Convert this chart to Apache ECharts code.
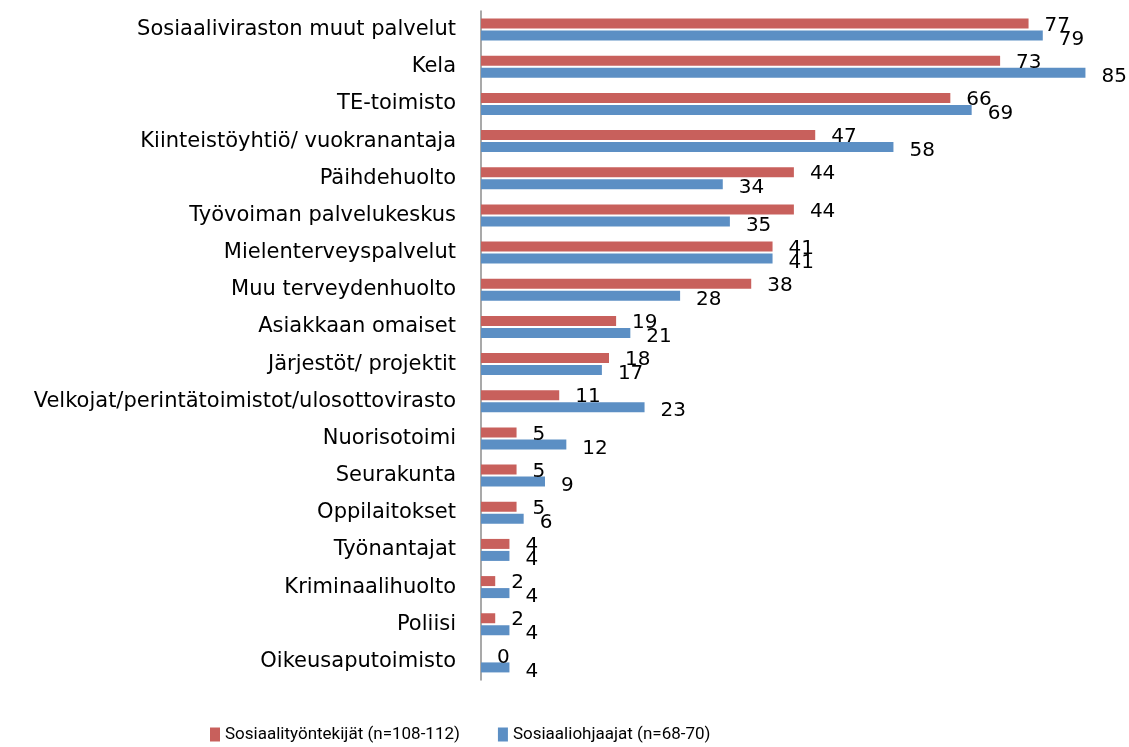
<!DOCTYPE html>
<html>
<head>
<meta charset="utf-8">
<script src="https://cdn.jsdelivr.net/npm/echarts@6/dist/echarts.min.js"></script>
<style>
  html, body { margin: 0; padding: 0; background: #fff; }
  #main { width: 1129px; height: 747px; }
</style>
</head>
<body>
<div id="main"></div>
<script>
var categories = [
    'Sosiaaliviraston muut palvelut', 'Kela', 'TE-toimisto', 'Kiinteistöyhtiö/ vuokranantaja',
    'Päihdehuolto', 'Työvoiman palvelukeskus', 'Mielenterveyspalvelut', 'Muu terveydenhuolto',
    'Asiakkaan omaiset', 'Järjestöt/ projektit', 'Velkojat/perintätoimistot/ulosottovirasto',
    'Nuorisotoimi', 'Seurakunta', 'Oppilaitokset', 'Työnantajat', 'Kriminaalihuolto',
    'Poliisi', 'Oikeusaputoimisto'
];
var seriesNames = ['Sosiaalityöntekijät (n=108-112)', 'Sosiaaliohjaajat (n=68-70)'];
var socialWorkers = [77, 73, 66, 47, 44, 44, 41, 38, 19, 18, 11, 5, 5, 5, 4, 2, 2, 0];
var socialInstructors = [79, 85, 69, 58, 34, 35, 41, 28, 21, 17, 23, 12, 9, 6, 4, 4, 4, 4];

var myChart = echarts.init(document.getElementById('main'));

var labelFont = 'DejaVu Sans';

var option = {
    animation: false,
    legend: {
        top: 721,
        left: 205,
        itemWidth: 10,
        itemHeight: 14,
        itemGap: 38,
        icon: 'rect',
        textStyle: { fontFamily: 'Roboto', fontSize: 17, color: '#000' },
        data: seriesNames
    },
    grid: {
        left: 481,
        top: 11,
        width: 640,
        height: 669
    },
    xAxis: {
        type: 'value',
        min: 0,
        max: 90,
        show: false
    },
    yAxis: {
        type: 'category',
        inverse: true,
        data: categories,
        axisTick: { show: false },
        axisLine: { lineStyle: { color: '#8c8c8c', width: 1.5 } },
        axisLabel: { fontFamily: labelFont, fontSize: 21, color: '#000', margin: 25 }
    },
    series: [{
        name: seriesNames[0],
        type: 'bar',
        barWidth: 10,
        barGap: '20%',
        itemStyle: { color: '#C8605C' },
        label: { show: true, position: 'right', distance: 16, offset: [0, 2],
                 fontFamily: labelFont, fontSize: 20, color: '#000' },
        data: socialWorkers
    }, {
        name: seriesNames[1],
        type: 'bar',
        barWidth: 10,
        itemStyle: { color: '#5C8FC4' },
        label: { show: true, position: 'right', distance: 16, offset: [0, 4],
                 fontFamily: labelFont, fontSize: 20, color: '#000' },
        data: socialInstructors
    }]
};

myChart.setOption(option);
</script>
</body>
</html>
